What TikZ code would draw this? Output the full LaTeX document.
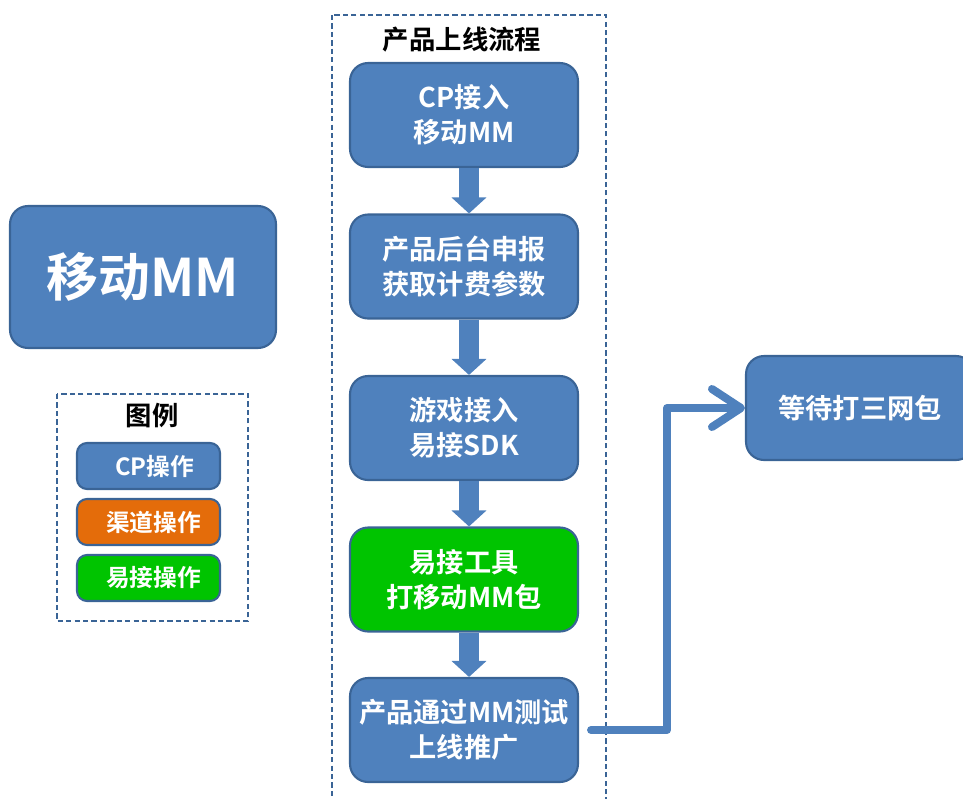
\documentclass[tikz,border=0pt]{standalone}
\usepackage{fontspec}
\setmainfont{Noto Sans CJK SC}[BoldFont={Noto Sans CJK SC Bold}]
\usetikzlibrary{arrows.meta}
\definecolor{boxblue}{HTML}{4F81BD}
\definecolor{boxedge}{HTML}{3A6496}
\definecolor{boxorange}{HTML}{E46C0A}
\definecolor{boxgreen}{HTML}{00C400}
\tikzset{
	procbox/.style   = {draw=boxedge, fill=boxblue, line width=1.2pt, rounded corners=0.36cm,
	                    text=white, align=center, minimum width=4.56cm, minimum height=2.08cm,
	                    font=\bfseries\fontsize{15.5}{20}\selectfont},
	legendbox/.style = {procbox, rounded corners=0.2cm, minimum width=2.86cm, minimum height=0.92cm,
	                    font=\bfseries\fontsize{13.5}{16}\selectfont},
	groupframe/.style = {draw=boxedge, line width=1.1pt, dash pattern=on 3pt off 1.8pt},
	grouptitle/.style = {font=\bfseries\fontsize{15}{18}\selectfont},
	stepline/.style  = {boxblue, line width=0.4cm, -{Triangle[length=0.32cm,width=0.68cm]}},
	sendline/.style  = {boxblue, line width=0.16cm, line cap=round, line join=round,
	                    -{Straight Barb[length=0.58cm,width=0.76cm,round]}}
}

\begin{document}
\begin{tikzpicture}[x=0.02cm,y=-0.02cm]
	\useasboundingbox (0,0) rectangle (963,798);
	\node[procbox, minimum width=5.32cm, minimum height=2.84cm, font=\bfseries\fontsize{29.5}{32}\selectfont] (mm) at (143,277) {移动MM};
	\draw[groupframe] (57,394) rectangle (248,621);
	\node[grouptitle] (legtitle) at (152,416) {图例};
	\node[legendbox] (legcp) at (148.5,466) {\hspace*{0.25cm}CP操作};
	\node[legendbox, fill=boxorange] (legqd) at (148.5,522) {\hspace*{0.2cm}渠道操作};
	\node[legendbox, fill=boxgreen] (legyj) at (148.5,578) {\hspace*{0.2cm}易接操作};
	\draw[groupframe] (332,15) rectangle (606,820);
	\node[grouptitle] (flowtitle) at (462,40) {产品上线流程};
	\node[procbox] (b1) at (464,115) {CP接入\\移动MM};
	\node[procbox] (b2) at (464,266.5) {产品后台申报\\获取计费参数};
	\node[procbox] (b3) at (464,428) {游戏接入\\易接SDK};
	\node[procbox, fill=boxgreen] (b4) at (464,579.5) {易接工具\\打移动MM包};
	\node[procbox] (b5) at (464,730) {产品通过MM测试\\上线推广};
	\node[procbox] (wait) at (860,408) {等待打三网包};
	\draw[stepline] ([xshift=0.1cm]b1.south) -- ([xshift=0.1cm]b2.north);
	\draw[stepline] ([xshift=0.1cm]b2.south) -- ([xshift=0.1cm]b3.north);
	\draw[stepline] ([xshift=0.1cm]b3.south) -- ([xshift=0.1cm]b4.north);
	\draw[stepline] ([xshift=0.1cm]b4.south) -- ([xshift=0.1cm]b5.north);
	\coordinate (bend) at (667,408);
	\draw[sendline, shorten <=0.24cm] (b5.east) -| (bend) -- (wait.west);
\end{tikzpicture}
\end{document}
